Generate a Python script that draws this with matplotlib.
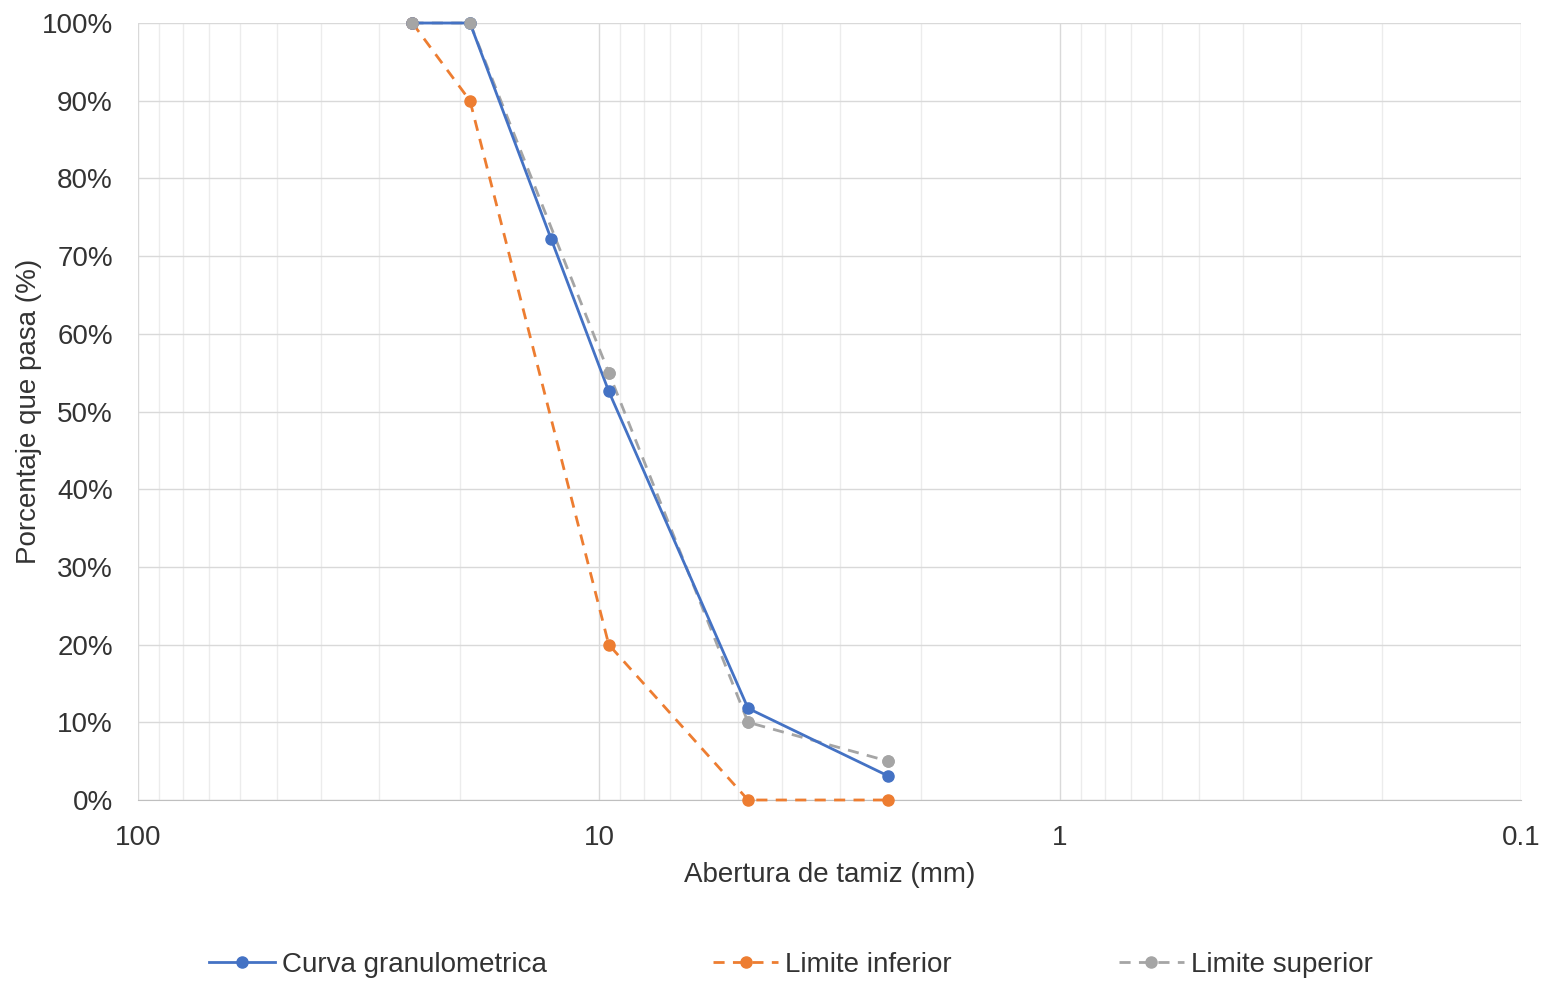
import numpy as np
from matplotlib import pyplot as plt
from matplotlib.ticker import FixedLocator, FuncFormatter, LogLocator, NullFormatter

plt.rcParams['font.family'] = ['Liberation Sans', 'DejaVu Sans']

# sieve openings (mm) and percent passing
curva_x = [25.4, 19.05, 12.7, 9.525, 4.75, 2.36]
curva_y = [100, 100, 72.2, 52.6, 11.8, 3.1]

inferior_x = [25.4, 19.05, 9.525, 4.75, 2.36]
inferior_y = [100, 90, 20, 0, 0]

superior_x = [25.4, 19.05, 9.525, 4.75, 2.36]
superior_y = [100, 100, 55, 10, 5]

fig = plt.figure(figsize=(15.43, 9.81), dpi=100)
ax = fig.add_axes([138 / 1543, 1 - 800 / 981, (1521 - 138) / 1543, (800 - 23) / 981])

ax.plot(curva_x, curva_y, color='#4472c4', lw=2, marker='o', ms=8,
        label='Curva granulometrica', zorder=4, clip_on=False)
ax.plot(inferior_x, inferior_y, color='#ed7d31', lw=2, ls=(0, (4, 3)), marker='o', ms=8,
        label='Limite inferior', zorder=3, clip_on=False)
ax.plot(superior_x, superior_y, color='#a5a5a5', lw=2, ls=(0, (4, 3)), marker='o', ms=8,
        label='Limite superior', zorder=2, clip_on=False)
# gray markers sit above the blue ones, as in the original
ax.plot(superior_x, superior_y, ls='none', color='#a5a5a5', marker='o', ms=8,
        zorder=5, clip_on=False)

ax.set_xscale('log')
ax.set_xlim(100, 0.1)
ax.set_ylim(0, 100)
ax.xaxis.set_major_locator(FixedLocator([100, 10, 1, 0.1]))
ax.xaxis.set_major_formatter(FuncFormatter(lambda v, p: '%g' % v))
ax.xaxis.set_minor_locator(LogLocator(base=10, subs=np.arange(2, 10)))
ax.xaxis.set_minor_formatter(NullFormatter())
ax.set_yticks(np.arange(0, 101, 10))
ax.yaxis.set_major_formatter(FuncFormatter(lambda v, p: '%d%%' % v))

ax.grid(which='major', color='#d9d9d9', lw=1)
ax.grid(which='minor', axis='x', color='#ececec', lw=1)
ax.set_axisbelow(True)
for s in ['top', 'right', 'left']:
    ax.spines[s].set_visible(False)
ax.spines['bottom'].set_color('#bfbfbf')
ax.tick_params(which='both', length=0, labelsize=20, colors='#333333')
ax.tick_params(axis='y', pad=18)
ax.tick_params(axis='x', pad=18)

ax.set_xlabel('Abertura de tamiz (mm)', fontsize=20, color='#333333', labelpad=8)
ax.set_ylabel('Porcentaje que pasa (%)', fontsize=20, color='#333333', labelpad=0)

fig.legend(loc='center', bbox_to_anchor=(791 / 1543, 1 - 965 / 981), ncol=3, frameon=False,
           fontsize=20, handlelength=2.35, handletextpad=0.25, columnspacing=6.0,
           labelcolor='#333333')

fig.savefig('out.png', dpi=100)
